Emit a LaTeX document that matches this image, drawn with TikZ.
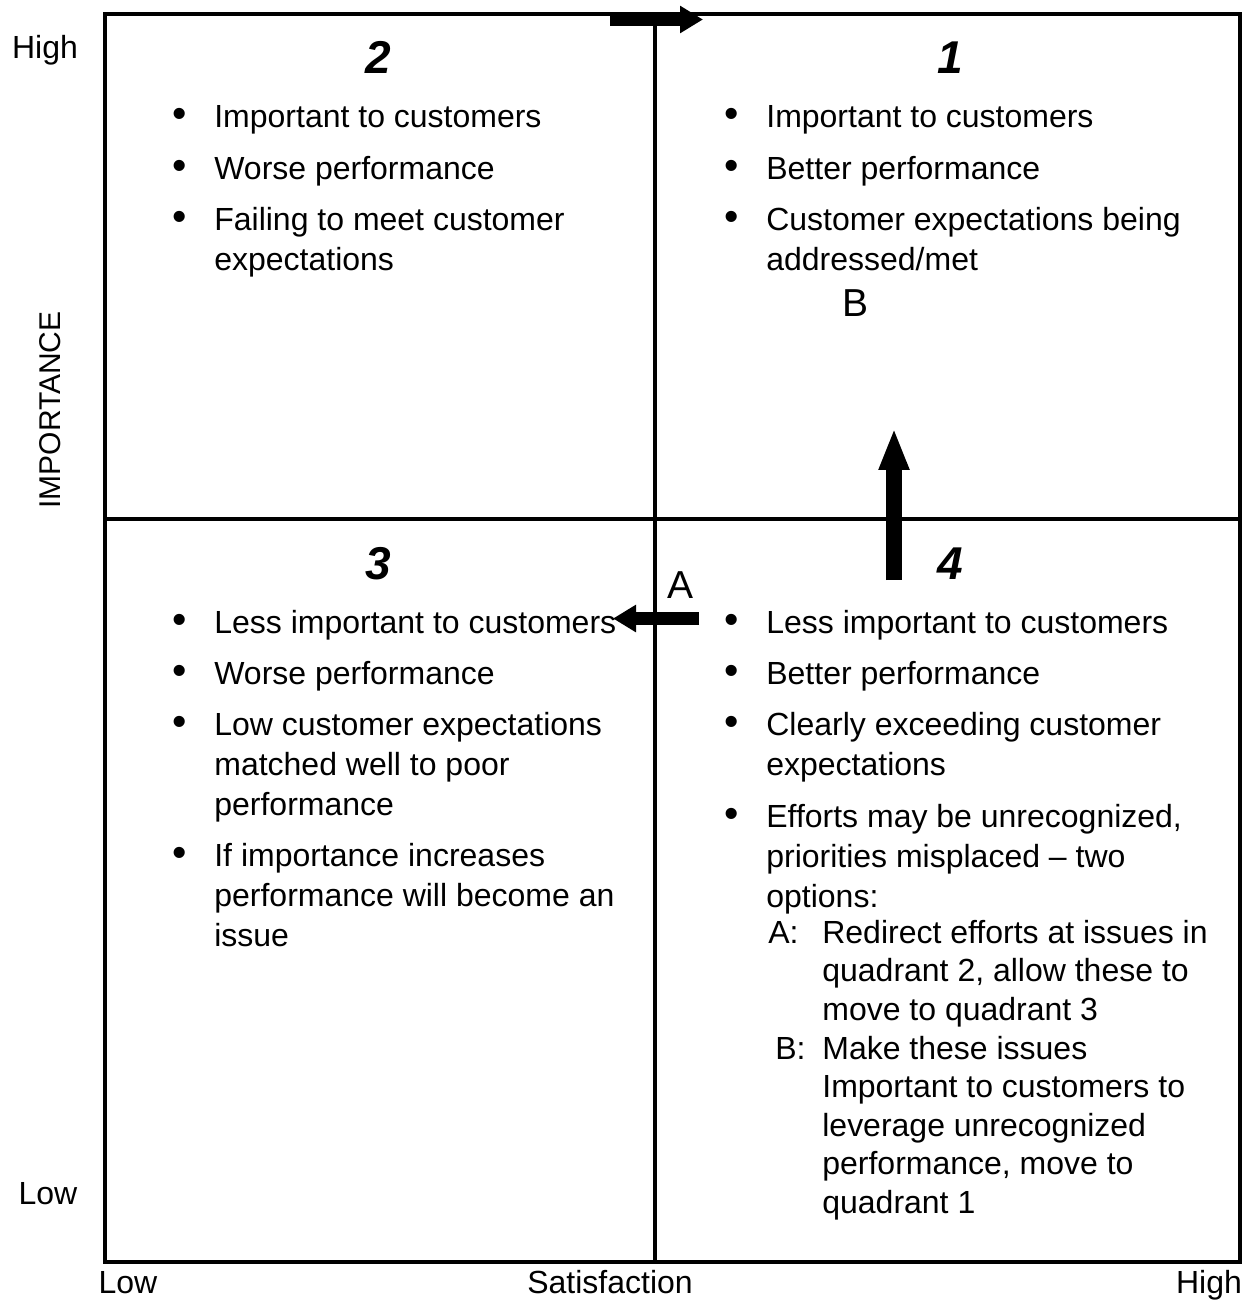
\documentclass[tikz,border=0pt]{standalone}
\usepackage{fontspec}
\setmainfont{Liberation Sans}
\usetikzlibrary{arrows.meta}

\begin{document}
\begin{tikzpicture}[x=0.02cm, y=-0.02cm,
  txt/.style={anchor=north west, align=left, inner sep=0pt, font=\fontsize{0.64cm}{0.8cm}\selectfont},
  puce/.style={txt, font=\fontsize{0.82cm}{0.8cm}\selectfont},
  sub/.style={txt, font=\fontsize{0.64cm}{0.77cm}\selectfont},
  num/.style={anchor=base, inner sep=0pt, font=\fontsize{0.92cm}{1cm}\selectfont\bfseries\itshape},
  axe/.style={anchor=base, inner sep=0pt, font=\fontsize{0.64cm}{0.8cm}\selectfont},
  lettre/.style={anchor=base, inner sep=0pt, font=\fontsize{0.78cm}{0.9cm}\selectfont},
  fleche/.style={line width=0.26cm, -{Triangle[length=0.46cm, width=0.52cm]}}]
  \useasboundingbox (0,0) rectangle (1250,1302);

  % Cadre et quadrants
  \draw[line width=0.08cm] (104.5,14) rectangle (1239.5,1262);
  \draw[line width=0.065cm] (655,14) -- (655,1262);
  \draw[line width=0.065cm] (104.5,519) -- (1239.5,519);

  % Axes
  \node[axe] (imp-haut) at (45,58) {High};
  \node[axe] (imp-bas) at (48,1204) {Low};
  \node[inner sep=0pt, rotate=90, font=\fontsize{0.6cm}{0.8cm}\selectfont] (imp) at (50,410) {IMPORTANCE};
  \node[axe] (sat-bas) at (128,1293) {Low};
  \node[axe] (sat) at (610,1293) {Satisfaction};
  \node[axe] (sat-haut) at (1209,1293) {High};

  % Quadrant 2
  \node[num] (n2) at (378,73) {2};
  \node[puce] (q2-b1) at (172,99) {\strut•};
  \node[txt] (q2-i1) at (214,99) {\strut Important to customers};
  \node[puce] (q2-b2) at (172,151) {\strut•};
  \node[txt] (q2-i2) at (214,151) {\strut Worse performance};
  \node[puce] (q2-b3) at (172,202) {\strut•};
  \node[txt] (q2-i3) at (214,202) {\strut Failing to meet customer\\expectations};

  % Quadrant 1
  \node[num] (n1) at (950,73) {1};
  \node[puce] (q1-b1) at (724,99) {\strut•};
  \node[txt] (q1-i1) at (766,99) {\strut Important to customers};
  \node[puce] (q1-b2) at (724,151) {\strut•};
  \node[txt] (q1-i2) at (766,151) {\strut Better performance};
  \node[puce] (q1-b3) at (724,202) {\strut•};
  \node[txt] (q1-i3) at (766,202) {\strut Customer expectations being\\addressed/met};
  \node[lettre] (lB) at (855,316) {B};

  % Quadrant 3
  \node[num] (n3) at (378,579) {3};
  \node[puce] (q3-b1) at (172,605) {\strut•};
  \node[txt] (q3-i1) at (214,605) {\strut Less important to customers};
  \node[puce] (q3-b2) at (172,656) {\strut•};
  \node[txt] (q3-i2) at (214,656) {\strut Worse performance};
  \node[puce] (q3-b3) at (172,707) {\strut•};
  \node[txt] (q3-i3) at (214,707) {\strut Low customer expectations\\matched well to poor\\performance};
  \node[puce] (q3-b4) at (172,838) {\strut•};
  \node[txt] (q3-i4) at (214,838) {\strut If importance increases\\performance will become an\\issue};

  % Quadrant 4
  \node[num] (n4) at (950,579) {4};
  \node[puce] (q4-b1) at (724,605) {\strut•};
  \node[txt] (q4-i1) at (766,605) {\strut Less important to customers};
  \node[puce] (q4-b2) at (724,656) {\strut•};
  \node[txt] (q4-i2) at (766,656) {\strut Better performance};
  \node[puce] (q4-b3) at (724,707) {\strut•};
  \node[txt] (q4-i3) at (766,707) {\strut Clearly exceeding customer\\expectations};
  \node[puce] (q4-b4) at (724,799) {\strut•};
  \node[txt] (q4-i4) at (766,799) {\strut Efforts may be unrecognized,\\priorities misplaced – two\\options:};
  \node[sub] (optA-l) at (768,916) {\strut A:};
  \node[sub] (optA) at (822,916) {\strut Redirect efforts at issues in\\quadrant 2, allow these to\\move to quadrant 3};
  \node[sub] (optB-l) at (775,1032) {\strut B:};
  \node[sub] (optB) at (822,1032) {\strut Make these issues\\Important to customers to\\leverage unrecognized\\performance, move to\\quadrant 1};
  \node[lettre] (lA) at (680,598) {A};

  % Flèches
  \coordinate (haut-d) at (610,19.5);
  \coordinate (haut-f) at (703,19.5);
  \draw[fleche] (haut-d) -- (haut-f);

  \coordinate (gauche-d) at (699,618.5);
  \coordinate (gauche-f) at (613,618.5);
  \draw[fleche] (gauche-d) -- (gauche-f);

  \coordinate (monte-d) at (894,580);
  \coordinate (monte-f) at (894,428);
  \draw[line width=0.32cm, -{Triangle[length=0.84cm, width=0.56cm]}] (monte-d) -- (monte-f);
\end{tikzpicture}
\end{document}
